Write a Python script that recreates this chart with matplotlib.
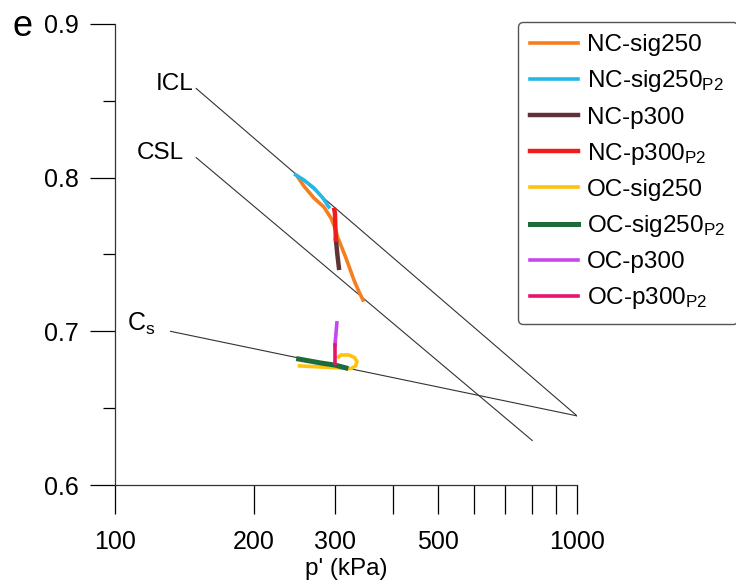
"""e - log p' 図（ICL / CSL / Cs と各試験の経路）"""
import matplotlib.pyplot as plt

plt.rcParams["font.family"] = ["Liberation Sans", "DejaVu Sans"]
plt.rcParams["mathtext.default"] = "regular"

# 基準線 （p', e）
icl_p = [150, 1000]
icl_e = [0.858, 0.645]
csl_p = [150, 800]
csl_e = [0.813, 0.629]
cs_p = [132, 1000]
cs_e = [0.700, 0.645]

# 各試験の経路
nc_sig250_p = [248.7, 256.3, 269.5, 283.3, 293.4, 299.4, 303.9, 316.2, 329.1, 337.6, 344.3]
nc_sig250_e = [0.8005, 0.7946, 0.7868, 0.7809, 0.7738, 0.7673, 0.7608, 0.7478, 0.7334, 0.7256, 0.7204]
nc_sig250_p2_p = [246.2, 256.3, 269.5, 281.8, 290.4]
nc_sig250_p2_e = [0.8018, 0.7985, 0.7933, 0.7868, 0.7809]
nc_p300_p = [300.9, 303.0, 305.4]
nc_p300_e = [0.7595, 0.7500, 0.7413]
nc_p300_p2_p = [298.5, 299.4, 300.0, 300.9]
nc_p300_p2_e = [0.7790, 0.7770, 0.7680, 0.7595]
oc_sig250_p = [251, 279, 308, 324, 332, 334, 330, 321, 308, 305]
oc_sig250_e = [0.6775, 0.6768, 0.6762, 0.6757, 0.6775, 0.6805, 0.6830, 0.6846, 0.6846, 0.6833]
oc_sig250_p2_p = [249.9, 279.0, 300.0, 316.2]
oc_sig250_p2_e = [0.6820, 0.6794, 0.6780, 0.6762]
oc_p300_p = [302.3, 300.8, 299.4]
oc_p300_e = [0.7055, 0.6980, 0.6912]
oc_p300_p2_p = [299.4, 299.4]
oc_p300_p2_e = [0.6912, 0.6794]

fig = plt.figure(figsize=(7.36, 5.83), dpi=100)
ax = fig.add_axes([0.156, 0.168, 0.628, 0.791])

# 基準線
ref = dict(color="#333333", lw=0.8)
ax.plot(icl_p, icl_e, **ref)
ax.plot(csl_p, csl_e, **ref)
ax.plot(cs_p, cs_e, **ref)
ax.text(148, 0.861, "ICL", ha="right", va="center", fontsize=17.5)
ax.text(141, 0.816, "CSL", ha="right", va="center", fontsize=17.5)
ax.text(106, 0.705, "C$_s$", ha="left", va="center", fontsize=18)

# 試験データ
lw = 2.6
ax.plot(nc_sig250_p, nc_sig250_e, color="#F57F20", lw=lw, label="NC-sig250")
ax.plot(nc_sig250_p2_p, nc_sig250_p2_e, color="#22B8E8", lw=lw, label="NC-sig250$_{P2}$")
ax.plot(nc_p300_p, nc_p300_e, color="#5E3236", lw=lw + 0.6, label="NC-p300")
ax.plot(nc_p300_p2_p, nc_p300_p2_e, color="#EE1C1C", lw=lw + 0.6, label="NC-p300$_{P2}$")
ax.plot(oc_sig250_p, oc_sig250_e, color="#FFC20E", lw=lw, label="OC-sig250")
ax.plot(oc_sig250_p2_p, oc_sig250_p2_e, color="#1D6B38", lw=lw + 1, label="OC-sig250$_{P2}$")
ax.plot(oc_p300_p, oc_p300_e, color="#C846F0", lw=lw, label="OC-p300")
ax.plot(oc_p300_p2_p, oc_p300_p2_e, color="#E8146C", lw=lw, label="OC-p300$_{P2}$")

# 軸の設定
ax.set_xscale("log")
ax.set_xlim(100, 1000)
ax.set_ylim(0.6, 0.9)
xt = [100, 200, 300, 400, 500, 600, 700, 800, 900, 1000]
ax.set_xticks(xt)
ax.set_xticks([], minor=True)
ax.set_xticklabels([str(v) if v in (100, 200, 300, 500, 1000) else "" for v in xt])
ax.set_yticks([0.6, 0.7, 0.8, 0.9])
ax.set_yticks([0.65, 0.75, 0.85], minor=True)
ax.set_yticklabels(["0.6", "0.7", "0.8", "0.9"])
ax.tick_params(axis="x", direction="out", length=21, width=0.9, pad=11, labelsize=18)
ax.tick_params(axis="y", which="major", direction="out", length=18, width=0.9, pad=8, labelsize=18)
ax.tick_params(axis="y", which="minor", direction="out", length=9, width=0.9)
for s in ("top", "right"):
    ax.spines[s].set_visible(False)
for s in ("left", "bottom"):
    ax.spines[s].set_linewidth(0.9)
    ax.spines[s].set_color("#333333")
ax.set_xlabel("p' (kPa)", fontsize=17.5, labelpad=3)
fig.text(0.017, 0.955, "e", fontsize=26, va="center")

fig.legend(
    loc="upper left",
    bbox_to_anchor=(0.704, 0.962),
    borderaxespad=0,
    fontsize=17.5,
    handlelength=1.97,
    handletextpad=0.37,
    labelspacing=0.5,
    borderpad=0.5,
    frameon=True,
    fancybox=True,
    edgecolor="#555555",
    framealpha=1,
)

fig.savefig("out.png", dpi=100)
